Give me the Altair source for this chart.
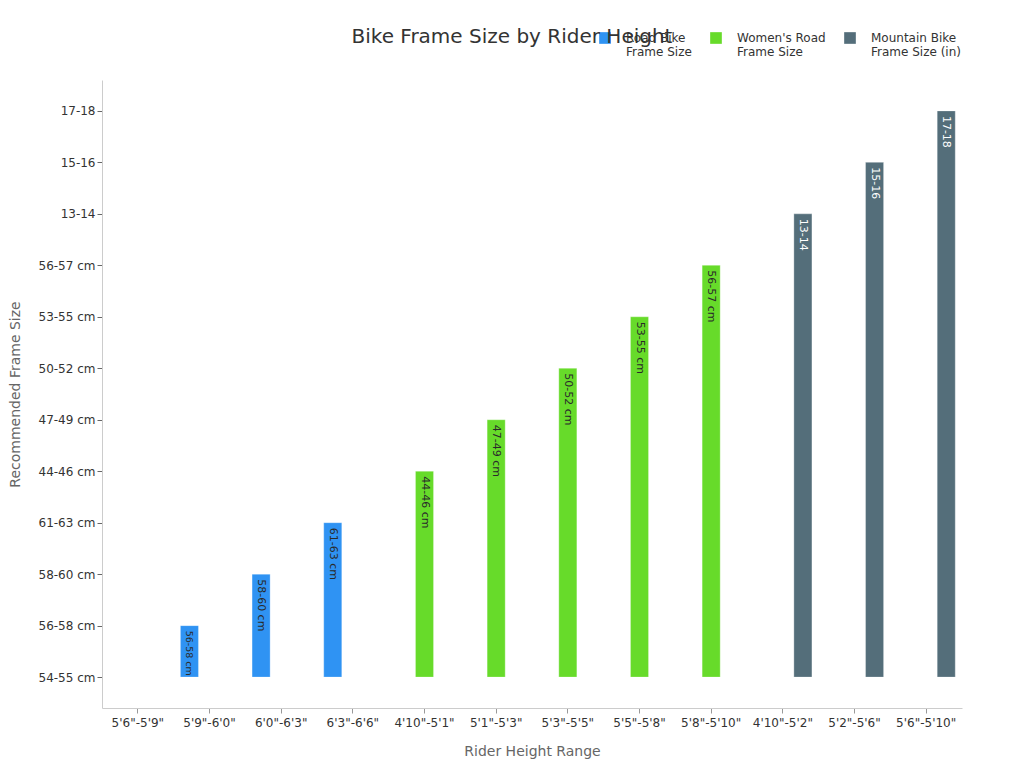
import altair as alt
import pandas as pd

heights = ['5\'6"-5\'9"', '5\'9"-6\'0"', '6\'0"-6\'3"', '6\'3"-6\'6"',
           '4\'10"-5\'1"', '5\'1"-5\'3"', '5\'3"-5\'5"', '5\'5"-5\'8"', '5\'8"-5\'10"',
           '4\'10"-5\'2"', '5\'2"-5\'6"', '5\'6"-5\'10"']
series = ["Road Bike Frame Size"] * 4 + ["Women's Road Frame Size"] * 5 + ["Mountain Bike Frame Size (in)"] * 3
sizes = ["54-55 cm", "56-58 cm", "58-60 cm", "61-63 cm",
         "44-46 cm", "47-49 cm", "50-52 cm", "53-55 cm", "56-57 cm",
         "13-14", "15-16", "17-18"]
size_levels = sizes  # order of the categorical frame-size axis
series_order = ["Road Bike Frame Size", "Women's Road Frame Size", "Mountain Bike Frame Size (in)"]
colors = ["#2F93F3", "#67DB2A", "#546E7A"]

df = pd.DataFrame({
    "height": heights,
    "series": series,
    "size": sizes,
    "idx": [size_levels.index(s) for s in sizes],
})

label_expr = "[" + ",".join(f"'{s}'" for s in size_levels) + "][datum.value]"

x_enc = alt.X("height:N", sort=heights, title="Rider Height Range",
              scale=alt.Scale(paddingInner=0.16, paddingOuter=0.08),
              axis=alt.Axis(labelAngle=0, labelFontSize=12, labelColor="#333333",
                            titleFontSize=14, titleColor="#666666", titleFontWeight="normal",
                            titlePadding=16, domainColor="#cccccc", tickColor="#999999",
                            labelPadding=4))
xo_enc = alt.XOffset("series:N", sort=series_order,
                     scale=alt.Scale(paddingInner=0.1, paddingOuter=0.05))

y_scale = alt.Scale(domain=[-0.6, 11.6], nice=False, zero=False)

bars = alt.Chart(df).mark_bar(stroke="white", strokeWidth=0.5, strokeOpacity=0.6).encode(
    x=x_enc,
    xOffset=xo_enc,
    y=alt.Y("idx:Q", scale=y_scale, title="Recommended Frame Size", stack=None,
            axis=alt.Axis(values=list(range(len(size_levels))), labelExpr=label_expr,
                          grid=False, labelFontSize=12, labelColor="#333333",
                          titleFontSize=14, titleColor="#666666", titleFontWeight="normal",
                          titlePadding=16, domainColor="#cccccc", tickColor="#666666")),
    y2=alt.datum(0),
    color=alt.Color("series:N", sort=series_order,
                    scale=alt.Scale(domain=series_order, range=colors),
                    legend=alt.Legend(title=None, orient="none", direction="horizontal",
                                      legendX=497, legendY=-48, columns=3,
                                      symbolType="square", symbolSize=136,
                                      symbolStrokeWidth=0, labelFontSize=12,
                                      labelColor="#333333", columnPadding=18,
                                      labelOffset=15,
                                      labelExpr="datum.label == 'Road Bike Frame Size' ? ['Road Bike','Frame Size'] : datum.label == \"Women's Road Frame Size\" ? [\"Women's Road\",'Frame Size'] : ['Mountain Bike','Frame Size (in)']")),
)

texts = alt.Chart(df).transform_filter("datum.idx > 0").mark_text(
    angle=90, align="left", baseline="middle", dx=5
).encode(
    x=alt.X("height:N", sort=heights),
    xOffset=alt.XOffset("series:N", sort=series_order),
    y=alt.Y("idx:Q", scale=y_scale),
    text="size:N",
    color=alt.condition("datum.series == 'Mountain Bike Frame Size (in)'",
                        alt.value("#ffffff"), alt.value("#2a2a2a")),
    size=alt.condition("datum.idx == 1", alt.value(9.5), alt.value(11)),
)

chart = alt.layer(bars, texts).properties(
    width=860, height=628,
    padding={"top": 19, "left": 0, "right": 5, "bottom": 5},
    title=alt.TitleParams("Bike Frame Size by Rider Height", fontSize=20,
                          color="#333333", fontWeight="normal", anchor="middle",
                          dx=-20, offset=-15),
).configure(font="DejaVu Sans").configure_view(stroke=None)

chart.save("out.html", embed_options={"renderer": "svg", "actions": False})
